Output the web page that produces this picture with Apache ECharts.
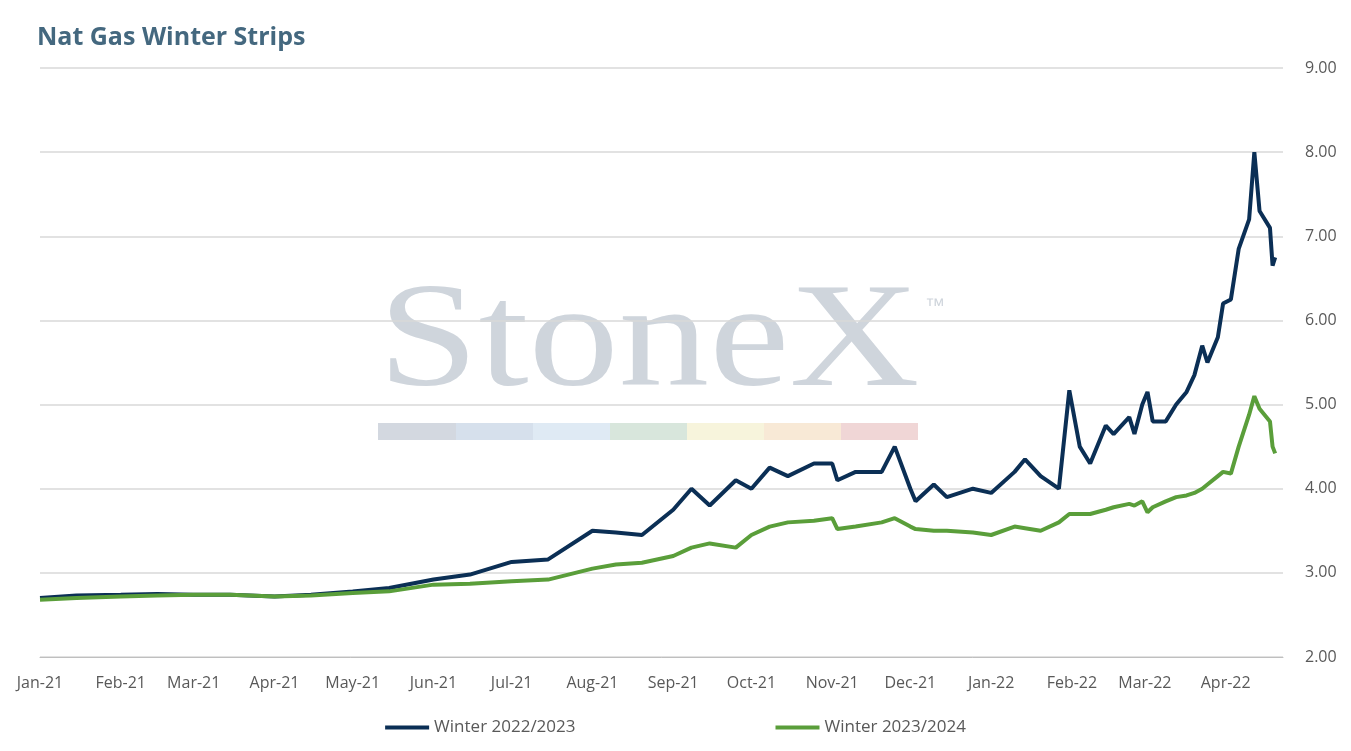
<!DOCTYPE html>
<html>
<head>
<meta charset="utf-8">
<script src="https://cdn.jsdelivr.net/npm/echarts@6/dist/echarts.min.js"></script>
<style>html,body{margin:0;padding:0;background:#fff}#main{width:1351px;height:751px}</style>
</head>
<body>
<div id="main"></div>
<script>
// sample dates
var dates = [
  '2021-01-01','2021-01-15','2021-02-01','2021-02-15','2021-03-01','2021-03-15','2021-04-01','2021-04-15',
  '2021-05-01','2021-05-15','2021-06-01','2021-06-15','2021-07-01','2021-07-15','2021-08-01','2021-08-10',
  '2021-08-20','2021-09-01','2021-09-08','2021-09-15','2021-09-25','2021-10-01','2021-10-08','2021-10-15',
  '2021-10-25','2021-11-01','2021-11-03','2021-11-10','2021-11-20','2021-11-25','2021-12-01','2021-12-03',
  '2021-12-10','2021-12-15','2021-12-25','2022-01-01','2022-01-10','2022-01-14','2022-01-20','2022-01-27',
  '2022-01-31','2022-02-04','2022-02-08','2022-02-14','2022-02-17','2022-02-23','2022-02-25','2022-02-28',
  '2022-03-02','2022-03-04','2022-03-09','2022-03-13','2022-03-17','2022-03-20','2022-03-23','2022-03-25',
  '2022-03-29','2022-03-31','2022-04-03','2022-04-06','2022-04-10','2022-04-12','2022-04-14','2022-04-18','2022-04-19','2022-04-20'
];
var winter2223 = [
  2.70,2.73,2.74,2.75,2.74,2.74,2.72,2.74,
  2.78,2.82,2.92,2.98,3.13,3.16,3.50,3.48,
  3.45,3.75,4.00,3.80,4.10,4.00,4.25,4.15,
  4.30,4.30,4.10,4.20,4.20,4.50,4.00,3.85,
  4.05,3.90,4.00,3.95,4.20,4.35,4.15,4.00,
  5.17,4.50,4.30,4.75,4.65,4.85,4.65,5.00,
  5.15,4.80,4.80,5.00,5.15,5.35,5.70,5.50,
  5.80,6.20,6.25,6.85,7.20,8.00,7.30,7.10,6.65,6.75
];
var winter2324 = [
  2.68,2.70,2.72,2.73,2.74,2.74,2.72,2.73,
  2.76,2.78,2.86,2.87,2.90,2.92,3.05,3.10,
  3.12,3.20,3.30,3.35,3.30,3.45,3.55,3.60,
  3.62,3.65,3.52,3.55,3.60,3.65,3.55,3.52,
  3.50,3.50,3.48,3.45,3.55,3.53,3.50,3.60,
  3.70,3.70,3.70,3.75,3.78,3.82,3.80,3.85,
  3.72,3.78,3.85,3.90,3.92,3.95,4.00,4.05,
  4.15,4.20,4.18,4.50,4.88,5.10,4.95,4.80,4.50,4.42
];
var monthNames = ['Jan','Feb','Mar','Apr','May','Jun','Jul','Aug','Sep','Oct','Nov','Dec'];

function pairs(vals){ return dates.map(function(d,i){ return [d, vals[i]]; }); }

var myChart = echarts.init(document.getElementById('main'));
var option = {
  animation: false,
  title: {
    text: 'Nat Gas Winter Strips', left: 32, top: 20,
    textStyle: {color: '#44687f', fontSize: 25, fontWeight: 'bold', fontFamily: 'Open Sans'}
  },
  graphic: [
    {type: 'text', x: 378, y: 272, scaleX: 1.22, style: {text: 'StoneX', fill: '#cfd5dc', font: '148px "Liberation Serif"'}},
    {type: 'text', left: 925, top: 296, style: {text: '™', fill: '#cfd5dc', font: '20px "Liberation Sans"'}},
    {type: 'group', left: 378, top: 423, children: [
      {type: 'rect', shape: {x: 0, y: 0, width: 78, height: 17}, style: {fill: '#d3d8e0'}},
      {type: 'rect', shape: {x: 78, y: 0, width: 77, height: 17}, style: {fill: '#d6e0ec'}},
      {type: 'rect', shape: {x: 155, y: 0, width: 77, height: 17}, style: {fill: '#dfeaf4'}},
      {type: 'rect', shape: {x: 232, y: 0, width: 77, height: 17}, style: {fill: '#d8e6dc'}},
      {type: 'rect', shape: {x: 309, y: 0, width: 77, height: 17}, style: {fill: '#f7f4dc'}},
      {type: 'rect', shape: {x: 386, y: 0, width: 77, height: 17}, style: {fill: '#f8e9d6'}},
      {type: 'rect', shape: {x: 463, y: 0, width: 77, height: 17}, style: {fill: '#f0d6d6'}}
    ]}
  ],
  legend: {
    bottom: 10, left: 'center', itemGap: 200, itemWidth: 44, itemHeight: 4,
    icon: 'rect',
    textStyle: {color: '#595959', fontSize: 17, fontFamily: 'Open Sans'},
    data: ['Winter 2022/2023', 'Winter 2023/2024']
  },
  grid: {left: 40, right: 68, top: 68, bottom: 94},
  xAxis: {
    type: 'time',
    min: '2021-01-01', max: '2022-04-23',
    minInterval: 28 * 86400000, maxInterval: 31 * 86400000,
    axisLine: {lineStyle: {color: '#bfbfbf'}},
    axisTick: {show: false},
    splitLine: {show: false},
    axisLabel: {
      color: '#595959', fontSize: 16, fontFamily: 'Open Sans', margin: 18,
      hideOverlap: false,
      formatter: function (v) {
        var d = new Date(v);
        return monthNames[d.getMonth()] + '-' + String(d.getFullYear()).slice(2);
      }
    }
  },
  yAxis: {
    type: 'value', position: 'right', min: 2, max: 9, interval: 1,
    axisLine: {show: false}, axisTick: {show: false},
    splitLine: {lineStyle: {color: '#d9d9d9', width: 1.5}},
    axisLabel: {color: '#595959', fontSize: 16, fontFamily: 'Open Sans', margin: 22,
      formatter: function (v) { return v.toFixed(2); }}
  },
  series: [
    {name: 'Winter 2022/2023', type: 'line', data: pairs(winter2223), symbol: 'none',
      lineStyle: {color: '#0b2f55', width: 4}, itemStyle: {color: '#0b2f55'}},
    {name: 'Winter 2023/2024', type: 'line', data: pairs(winter2324), symbol: 'none',
      lineStyle: {color: '#5a9e3a', width: 4}, itemStyle: {color: '#5a9e3a'}}
  ]
};
myChart.setOption(option);
</script>
</body>
</html>
